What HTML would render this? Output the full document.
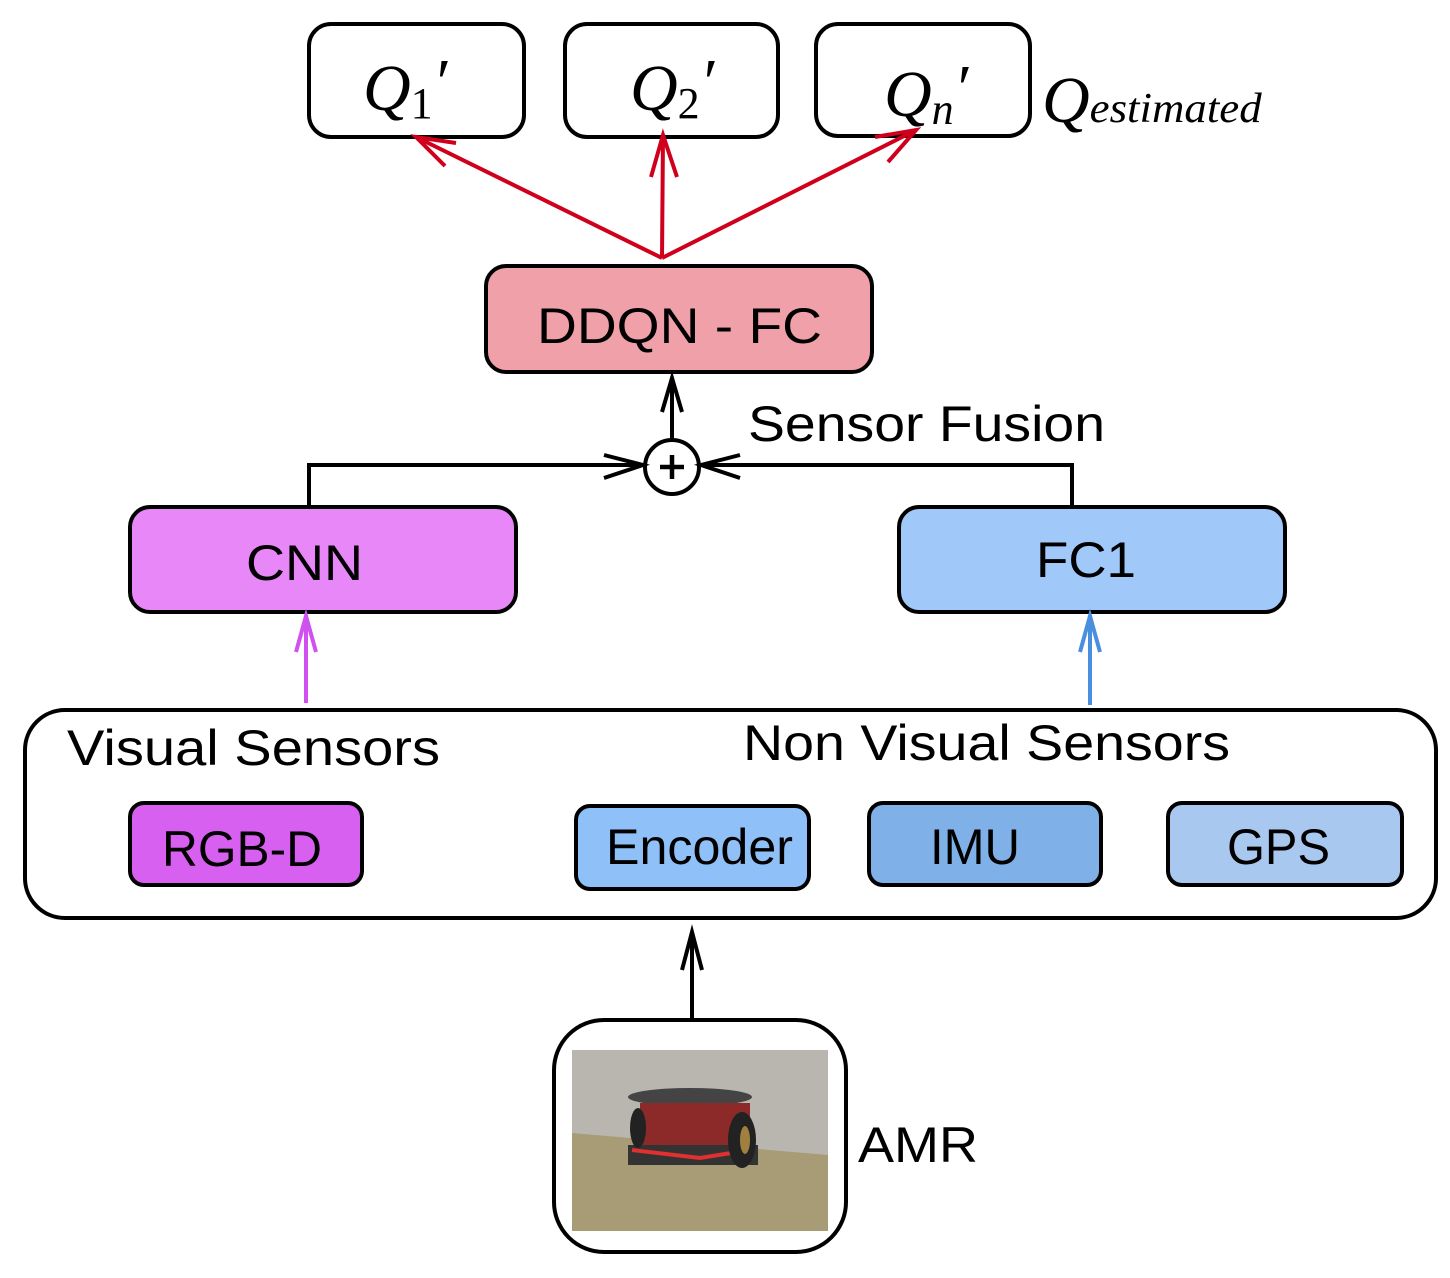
<!DOCTYPE html>
<html><head><meta charset="utf-8"><style>html,body{margin:0;padding:0;background:#fff}</style></head>
<body>
<svg width="1450" height="1273" viewBox="0 0 1450 1273" xmlns="http://www.w3.org/2000/svg" font-family="Liberation Sans, sans-serif">
<g stroke="#000" stroke-width="4" fill="#fff">
<rect x="309" y="24" width="215" height="113" rx="22"/>
<rect x="565" y="24" width="213" height="113" rx="22"/>
<rect x="816" y="24" width="214" height="112" rx="22"/>
<rect x="486" y="266" width="386" height="106" rx="20" fill="#f0a0a8"/>
<rect x="130" y="507" width="386" height="105" rx="20" fill="#e888f8"/>
<rect x="899" y="507" width="386" height="105" rx="20" fill="#a0c8f8"/>
<rect x="25" y="710" width="1411" height="208" rx="40"/>
<rect x="130" y="803" width="232" height="82" rx="14" fill="#d860f0"/>
<rect x="576" y="806" width="233" height="83" rx="14" fill="#90c0f8"/>
<rect x="869" y="803" width="232" height="82" rx="14" fill="#80b0e8"/>
<rect x="1168" y="803" width="234" height="82" rx="14" fill="#a8c8f0"/>
<rect x="554" y="1020" width="292" height="232" rx="50"/>
</g>
<g font-family="Liberation Serif, serif" font-style="italic" font-size="66">
<text x="363" y="110">Q<tspan font-size="44" font-style="normal" dy="8">1</tspan><tspan dy="-14">′</tspan></text>
<text x="630" y="110">Q<tspan font-size="44" font-style="normal" dy="8">2</tspan><tspan dy="-14">′</tspan></text>
<text x="884" y="116">Q<tspan font-size="44" dy="8">n</tspan><tspan dy="-14">′</tspan></text>
<text x="1042" y="122">Q<tspan font-size="42" textLength="172" lengthAdjust="spacingAndGlyphs">estimated</tspan></text>
</g>
<g stroke="#d0001c" stroke-width="4" fill="none">
<path d="M662 258 L416 137 M662 258 L663 135 M662 258 L916 130"/>
<path d="M445 166 L416 137 L456 143"/>
<path d="M651 177 L663 135 L677 177"/>
<path d="M875 137 L916 130 L888 162"/>
</g>
<g fill="#000" font-size="50">
<text x="537" y="343" textLength="285" lengthAdjust="spacingAndGlyphs">DDQN - FC</text>
<text x="246" y="580" textLength="117" lengthAdjust="spacingAndGlyphs">CNN</text>
<text x="1036" y="577" textLength="100" lengthAdjust="spacingAndGlyphs">FC1</text>
<text x="162" y="866" textLength="160" lengthAdjust="spacingAndGlyphs">RGB-D</text>
<text x="606" y="864" textLength="187" lengthAdjust="spacingAndGlyphs">Encoder</text>
<text x="930" y="864" textLength="90" lengthAdjust="spacingAndGlyphs">IMU</text>
<text x="1227" y="864" textLength="103" lengthAdjust="spacingAndGlyphs">GPS</text>
<text x="748" y="441" textLength="357" lengthAdjust="spacingAndGlyphs">Sensor Fusion</text>
<text x="67" y="765" textLength="373" lengthAdjust="spacingAndGlyphs">Visual Sensors</text>
<text x="743" y="760" textLength="487" lengthAdjust="spacingAndGlyphs">Non Visual Sensors</text>
<text x="858" y="1162" textLength="120" lengthAdjust="spacingAndGlyphs">AMR</text>
</g>
<g stroke="#000" stroke-width="4" fill="none">
<path d="M672 440 L672 380 M662 412 L672 378 L682 412"/>
<circle cx="672" cy="467" r="27" fill="#fff"/>
<path d="M660 467 H684 M672 455 V479" stroke-width="4.5"/>
<path d="M309 507 V465 H643 M604 455 L643 465 L604 478"/>
<path d="M1072 507 V465 H701 M740 455 L701 465 L740 478"/>
<path d="M692 1020 V932 M682 970 L692 932 L702 970"/>
</g>
<path d="M306 703 V616 M296 652 L306 616 L316 652" stroke="#d050f0" stroke-width="4" fill="none"/>
<path d="M1090 705 V616 M1080 652 L1090 616 L1100 652" stroke="#4a8ee0" stroke-width="4" fill="none"/>
<rect x="572" y="1050" width="256" height="181" fill="#b8b6ae"/>
<path d="M572 1133 L828 1155 L828 1231 L572 1231 Z" fill="#a89c76"/>
<ellipse cx="690" cy="1097" rx="62" ry="9" fill="#444"/>
<rect x="640" y="1103" width="110" height="50" fill="#8c2a2a"/>
<rect x="628" y="1145" width="130" height="20" fill="#333"/>
<path d="M632 1150 L700 1158 L750 1150" stroke="#e03030" stroke-width="4" fill="none"/>
<ellipse cx="742" cy="1140" rx="14" ry="28" fill="#222"/>
<ellipse cx="745" cy="1140" rx="5" ry="14" fill="#a08040"/>
<ellipse cx="638" cy="1128" rx="8" ry="20" fill="#222"/>
</svg>
</body></html>
